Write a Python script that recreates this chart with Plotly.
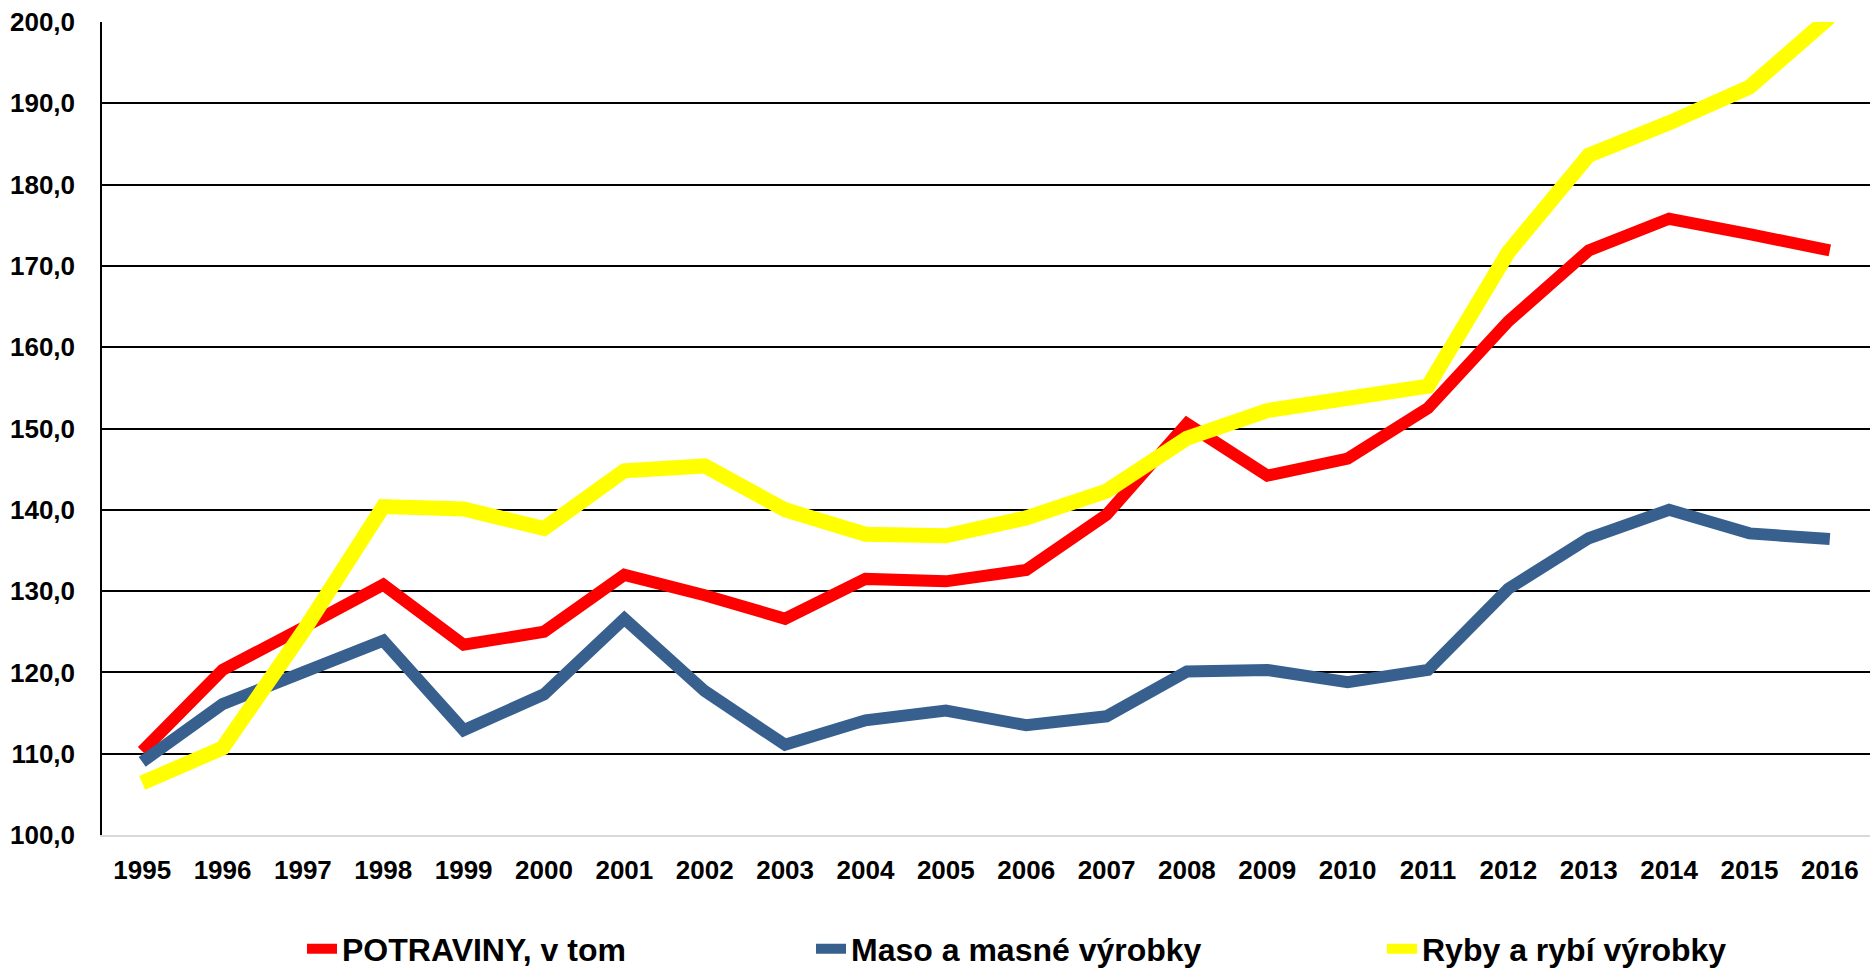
import plotly.graph_objects as go

years = [str(y) for y in range(1995, 2017)]
potraviny = [110.3, 120.3, 125.5, 130.8, 123.4, 125.0, 132.0, 129.5, 126.6, 131.5, 131.2, 132.6,
             139.4, 150.6, 144.2, 146.3, 152.5, 163.2, 171.9, 175.8, 173.9, 171.9]
maso = [109.0, 116.1, 120.0, 123.9, 112.9, 117.3, 126.6, 117.7, 111.1, 114.1, 115.3, 113.5,
        114.6, 120.1, 120.3, 118.8, 120.3, 130.3, 136.5, 140.0, 137.1, 136.4]
ryby = [106.4, 110.7, 125.0, 140.4, 140.1, 137.7, 144.8, 145.4, 140.0, 137.0, 136.8, 139.0,
        142.3, 148.8, 152.2, 153.6, 155.2, 171.7, 183.6, 187.6, 192.0, 200.6]

names = ["POTRAVINY, v tom", "Maso a masné výrobky", "Ryby a rybí výrobky"]
colors = ["#FF0000", "#37608F", "#FFFF00"]
widths = [12, 12, 15]
series = [potraviny, maso, ryby]
legend_ids = ["legend", "legend2", "legend3"]

FONT = "Liberation Sans, Arial, sans-serif"

fig = go.Figure()
for vals, nm, col, w, lg in zip(series, names, colors, widths, legend_ids):
    fig.add_trace(go.Scatter(x=years, y=vals, name=nm, mode="lines",
                             line=dict(color=col, width=w), legend=lg, showlegend=True))

W, H = 1870, 970
L, R, T, B = 102, 0, 22, 135
pw = W - L - R
ph = H - T - B

def px_x(p):
    return (p - L) / pw

leg_y = (H - B - 949) / ph
leg_common = dict(orientation="h", yanchor="middle", xanchor="left", y=leg_y,
                  font=dict(family=FONT, size=32, color="#000000", weight="bold"),
                  bgcolor="rgba(0,0,0,0)", itemwidth=30)

fig.update_layout(
    template="none",
    showlegend=True,
    width=W, height=H,
    margin=dict(l=L, r=R, t=T, b=B, pad=0, autoexpand=False),
    paper_bgcolor="white", plot_bgcolor="white",
    font=dict(family=FONT, size=26, color="#000000"),
    legend=dict(x=px_x(302), **leg_common),
    legend2=dict(x=px_x(811), **leg_common),
    legend3=dict(x=px_x(1382), **leg_common),
    xaxis=dict(type="category", range=[-0.5, len(years) - 0.5], automargin=False,
               showgrid=False, showline=True, linecolor="#D9D9D9", linewidth=2,
               ticks="", ticklabelstandoff=11,
               tickfont=dict(family=FONT, size=26, color="#000000", weight="bold")),
    yaxis=dict(range=[100, 200], dtick=10, tickformat=".1f", automargin=False,
               showgrid=True, gridcolor="#000000", gridwidth=1.5,
               showline=True, linecolor="#000000", linewidth=1.5,
               zeroline=False, ticks="", ticklabelstandoff=20,
               tickfont=dict(family=FONT, size=26, color="#000000", weight="bold")),
    separators=", ",
)

fig.write_html("out.html", config={"displayModeBar": False},
               post_script="document.body.style.margin='0';document.body.style.overflow='hidden';")
